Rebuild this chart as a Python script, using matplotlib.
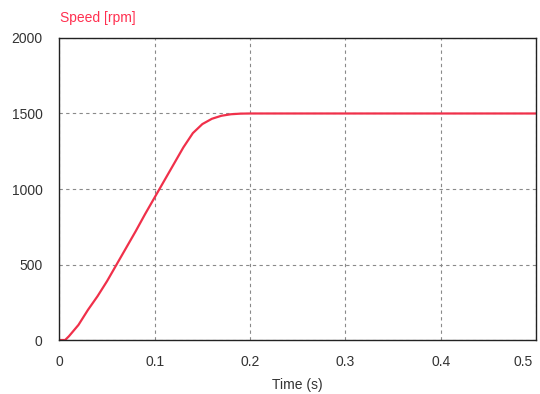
import matplotlib
matplotlib.use("Agg")
import matplotlib.pyplot as plt

time_s = [0.0, 0.006, 0.01, 0.02, 0.03, 0.04, 0.05, 0.06, 0.07, 0.08, 0.09, 0.10,
          0.11, 0.12, 0.13, 0.14, 0.15, 0.16, 0.17, 0.18, 0.19, 0.20, 0.5]
speed_rpm = [0, 0, 25, 100, 200, 290, 390, 500, 610, 720, 835, 945,
             1055, 1165, 1275, 1370, 1430, 1465, 1485, 1495, 1499, 1500, 1500]
x_ticks = [0, 0.1, 0.2, 0.3, 0.4, 0.5]
x_tick_labels = ["0", "0.1", "0.2", "0.3", "0.4", "0.5"]
y_ticks = [0, 500, 1000, 1500, 2000]

plt.rcParams['font.family'] = ['Liberation Sans', 'DejaVu Sans']
fig = plt.figure(figsize=(5.4, 3.94), dpi=100)
ax = fig.add_axes([0.110, 0.137, 0.8826, 0.7666])
ax.plot(time_s, speed_rpm, color='#f0304a', lw=1.6)
ax.set_xlim(0, 0.5)
ax.set_ylim(0, 2000)
ax.set_xticks(x_ticks)
# last label drawn separately so it stays inside the figure
ax.set_xticklabels(x_tick_labels[:-1] + [""])
ax.annotate(x_tick_labels[-1], xy=(x_ticks[-1], 0), xycoords=('data', 'axes fraction'),
            xytext=(-2, -11), textcoords='offset points', ha='right', va='top',
            fontsize=10, color='#333333')
ax.set_yticks(y_ticks)
ax.tick_params(length=0, labelsize=10, colors='#333333')
ax.tick_params(axis='y', pad=12)
ax.tick_params(axis='x', pad=11)
ax.grid(True, color='#8a8a8a', linestyle=(0, (3, 3)), lw=0.8)
for s in ax.spines.values():
    s.set_color('#222222')
    s.set_linewidth(1.0)
ax.set_xlabel("Time (s)", fontsize=10, color='#333333', labelpad=6)
fig.text(0.111, 0.955, "Speed [rpm]", color='#ff3050', fontsize=10, ha='left', va='center')
fig.savefig("out.png", dpi=100, facecolor='white')
